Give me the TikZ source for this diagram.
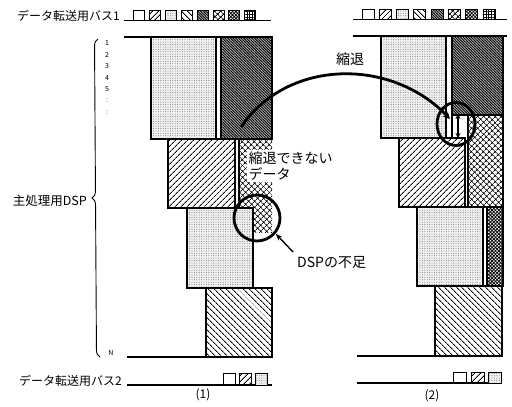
\documentclass[tikz,border=0pt]{standalone}
\usepackage{fontspec}
\newfontfamily\jp{Noto Sans CJK JP}
\usetikzlibrary{patterns.meta,decorations.pathreplacing,arrows.meta,shapes.geometric}
\begin{document}
\begin{tikzpicture}[x=1pt,y=-1pt,
  blk/.style={draw=black,line width=1.1pt},
  pdots/.style={preaction={fill=gray!12},pattern={Dots[distance=2.4pt,radius=0.4pt]},pattern color=black!75},
  pne/.style={pattern={Lines[angle=45,distance=4pt,line width=1pt]}},
  pnw/.style={pattern={Lines[angle=-45,distance=4pt,line width=1pt]}},
  pdark/.style={preaction={fill=gray!55},pattern={Lines[angle=-45,distance=1.9pt,line width=0.9pt]}},
  phatch/.style={pattern={Hatch[angle=45,distance=4pt,line width=0.8pt]}},
  pcheck/.style={pattern={Hatch[angle=45,distance=2.4pt,line width=0.8pt]}},
  pcheckb/.style={pattern={Hatch[angle=0,distance=2.6pt,line width=0.8pt]}},
  sq/.style={draw=black,line width=0.9pt},
  jlab/.style={font=\jp\fontsize{12}{14}\selectfont,inner sep=1pt},
  jbig/.style={font=\jp\fontsize{14}{16}\selectfont,inner sep=1pt},
  num/.style={font=\jp\fontsize{7}{8}\selectfont,inner sep=0pt},
  busline/.style={line width=1.1pt},
  thick3/.style={line width=2.8pt}
]
\useasboundingbox (0,0) rectangle (512,407);

% ---------- labels left ----------
\node[jlab,anchor=east] (bus1lbl) at (121,16) {データ転送用バス1};
\node[jlab,anchor=east] (bus2lbl) at (123,381) {データ転送用バス2};
\node[jlab,anchor=east,font=\jp\fontsize{12.5}{14}\selectfont] (dsplbl) at (88,201) {主処理用DSP};

% brace
\coordinate (bb) at (100,357);
\coordinate (bt) at (98,39);
\draw[line width=0.9pt,decorate,decoration={brace,amplitude=7pt}] (bb) -- (bt);
\foreach \t/\yy [count=\i] in {1/43,2/55,3/66,4/78,5/89,:/101,:/113}
  \node[num] (n\i) at (107,\yy) {\t};
\node[num] (nN) at (111,353) {N};

% ---------- panel 1 ----------
% bus 1
\draw[busline] (124,20.5) -- (271,20.5);
\foreach \x/\st [count=\i] in {133/,149/pne,165/pdots,181/pnw,197/pdark,213/phatch,228/pcheck,244/pcheckb}
  \draw[sq,\st] (\x,10) rectangle ++(11,10.5);
% top line
\draw[busline] (124,37) -- (272,37);
% blocks
\draw[blk,pdots] (151,37) rectangle (216,139);
\draw[blk,pdark] (221,37) rectangle (272,139);
\draw[blk,pne] (168,139) rectangle (235,208);
\fill[phatch] (239,139) rectangle (272,232);
\draw[line width=1.1pt] (239,139) -- (239,208);
\draw[blk,pdots] (187,208) rectangle (253,288);
\draw[blk,pnw] (206,288) rectangle (272,357);
\draw[busline] (127,357) -- (272,357);
% bus 2
\draw[busline] (127,385) -- (272,385);
\foreach \x/\st in {223/,239/pne,255/pdots}
  \draw[sq,\st] (\x,373) rectangle ++(12,12);
\node[jlab] (p1) at (203,395) {(1)};

% text in panel 1
\node[jbig,anchor=north west,fill=white,align=left,inner sep=1.5pt] (cant) at (247,150) {縮退できない\\データ};
\node[draw=black,thick3,circle,minimum size=46pt,inner sep=0pt] (circ) at (257,218) {};
\node[jbig,anchor=west] (short) at (296,263) {DSPの不足};
\coordinate (tail) at (293,252);
\draw[line width=1.4pt,-{Stealth[length=7pt,width=5pt]}] (tail) -- (circ.-40);

% ---------- panel 2 ----------
\draw[busline] (353,19.5) -- (507,19.5);
\foreach \x/\st in {362/,379/pne,396/pdots,413/pnw,431/pdark,448/phatch,465/pcheck,483/pcheckb}
  \draw[sq,\st] (\x,9.5) rectangle ++(12,10);
\draw[busline] (353,36) -- (507,36);
\draw[blk,pdots] (381,36) rectangle (446,138);
\draw[blk,pdark] (452,36) rectangle (503,115);
\draw[blk,phatch] (468,115) rectangle (503,207);
\draw[blk,pne] (399,138) rectangle (465,207);
\draw[line width=1.1pt] (452,115) -- (452,138);
\draw[blk,pdots] (417,207) rectangle (483,286);
\draw[blk,pcheck] (487,207) rectangle (503,286);
\draw[blk,pnw] (435,286) rectangle (502,356);
\draw[busline] (357,356) -- (502,356);
\draw[busline] (357,383) -- (502,383);
\foreach \x/\st in {453/,471/pne,488/pdots}
  \draw[sq,\st] (\x,372) rectangle ++(13,11);
\node[jlab] (p2) at (432,396) {(2)};

\node[draw=black,thick3,ellipse,minimum width=38pt,minimum height=43pt,inner sep=0pt] (ell) at (456,124) {};
\coordinate (da) at (458,114);
\coordinate (db) at (458,138);
\draw[line width=1.8pt,{Stealth[length=5pt,width=5pt]}-{Stealth[length=5pt,width=5pt]}] (da) -- (db);

% ---------- curve ----------
\coordinate (cs) at (241,127);
\coordinate (ce) at (450,119);
\draw[thick3,-{Stealth[length=7pt,width=7pt]}] (cs) .. controls (288,58) and (392,58) .. (ce);
\node[jbig] (shuku) at (350,59) {縮退};
\end{tikzpicture}
\end{document}
